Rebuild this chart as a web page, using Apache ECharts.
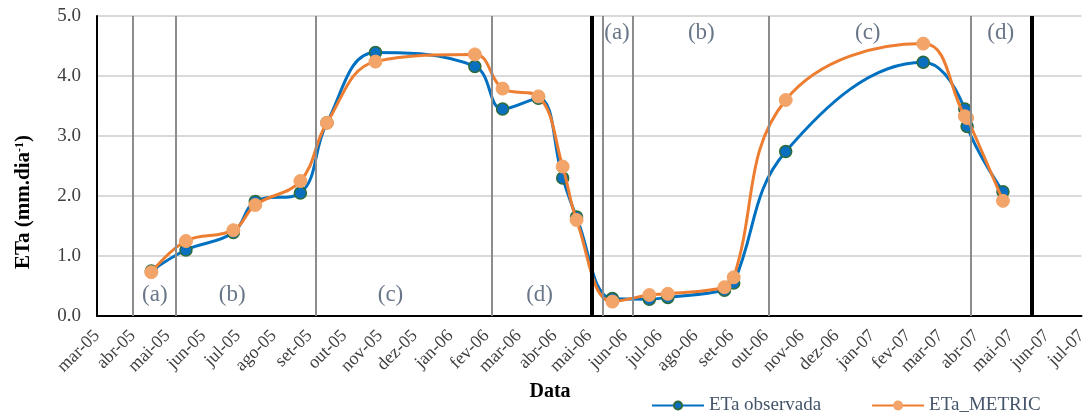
<!DOCTYPE html>
<html>
<head>
<meta charset="utf-8">
<script src="https://cdn.jsdelivr.net/npm/echarts@6/dist/echarts.min.js"></script>
<style>
html,body{margin:0;padding:0;background:#fff;}
#chart{width:1090px;height:414px;}
</style>
</head>
<body>
<div id="chart"></div>
<script>
// ---- data ----
const obsDates = ['2005-04-17','2005-05-17','2005-06-27','2005-07-16','2005-08-24','2005-09-16','2005-10-28','2006-01-22','2006-02-15','2006-03-18','2006-04-08','2006-04-20','2006-05-21','2006-06-22','2006-07-08','2006-08-26','2006-09-03','2006-10-18','2007-02-14','2007-03-22','2007-03-24','2007-04-24'];
const etaObservada = [0.75,1.10,1.39,1.91,2.05,3.22,4.39,4.16,3.45,3.63,2.30,1.65,0.29,0.28,0.31,0.43,0.55,2.74,4.23,3.45,3.16,2.07];
const etaMetric   = [0.73,1.25,1.43,1.85,2.25,3.22,4.24,4.36,3.79,3.66,2.49,1.60,0.24,0.35,0.37,0.48,0.645,3.60,4.54,3.33,3.30,1.92];
const monthAbbr = ['jan','fev','mar','abr','mai','jun','jul','ago','set','out','nov','dez'];
const xMin = '2005-03-01';
const xMax = '2007-07-01';
const phaseDividers = ['2005-04-01','2005-05-08','2005-09-06','2006-02-06','2006-05-13','2006-06-08','2006-10-03','2007-03-27'];
const seasonDividers = ['2006-05-03','2007-05-19'];
const phaseLabels = ['(a)','(b)','(c)','(d)','(a)','(b)','(c)','(d)'];
const phaseLabelDates = ['2005-04-20','2005-06-26','2005-11-10','2006-03-19','2006-05-25','2006-08-06','2006-12-28','2007-04-22'];
const phaseLabelY = [0.35,0.35,0.35,0.35,4.72,4.72,4.72,4.72];

const serif = '"Liberation Serif","DejaVu Serif",serif';
const chart = echarts.init(document.getElementById('chart'));

const markData = phaseDividers.map(d => ({xAxis: d, lineStyle: {color: '#8c8c8c', width: 2, type: 'solid'}}))
  .concat(seasonDividers.map(d => ({xAxis: d, lineStyle: {color: '#000', width: 4, type: 'solid'}})));

chart.setOption({
  animation: false,
  backgroundColor: '#fff',
  grid: {left: 97, right: 7, top: 16, bottom: 98, containLabel: false},
  xAxis: {
    type: 'time',
    min: xMin, max: xMax,
    splitNumber: 28,
    maxInterval: 31 * 864e5,
    axisLine: {show: true, lineStyle: {color: '#000', width: 2}},
    axisTick: {show: false},
    splitLine: {show: false},
    axisLabel: {
      rotate: 45,
      margin: 17,
      showMinLabel: true, showMaxLabel: true,
      hideOverlap: false,
      fontFamily: serif, fontSize: 18, color: '#404040',
      formatter: function (v) {
        const d = new Date(v);
        return monthAbbr[d.getMonth()] + '-' + String(d.getFullYear() % 100).padStart(2, '0');
      }
    }
  },
  yAxis: {
    type: 'value', min: 0, max: 5, interval: 1,
    axisLine: {show: true, lineStyle: {color: '#000', width: 2}},
    axisTick: {show: false},
    axisLabel: {fontFamily: serif, fontSize: 19, color: '#404040', margin: 16, formatter: v => v.toFixed(1)},
    splitLine: {show: true, lineStyle: {color: '#d9d9d9', width: 2}}
  },
  legend: {
    data: ['ETa observada', 'ETa_METRIC'],
    left: 646, top: 391,
    itemWidth: 52, itemHeight: 10, itemGap: 50,
    textStyle: {fontFamily: serif, fontSize: 19, color: '#44546a'}
  },
  graphic: [
    {type: 'text', x: 24, y: 202, rotation: Math.PI / 2,
     style: {text: 'ETa (mm.dia{sup|-1})', fontFamily: serif, fontWeight: 'bold', fontSize: 21, fill: '#000',
             align: 'center', verticalAlign: 'middle',
             rich: {sup: {fontSize: 12, fontWeight: 'bold', fontFamily: serif, padding: [0, 0, 9, 0]}}}},
    {type: 'text', x: 550, y: 392,
     style: {text: 'Data', fontFamily: serif, fontWeight: 'bold', fontSize: 20, fill: '#000', align: 'center', verticalAlign: 'middle'}}
  ],
  series: [
    {
      name: 'phases', type: 'scatter', symbolSize: 0, silent: true,
      data: phaseLabelDates.map((d, i) => ({name: phaseLabels[i], value: [d, phaseLabelY[i]]})),
      label: {show: true, position: 'inside', formatter: p => p.name, fontFamily: serif, fontSize: 23, color: '#44546a'},
      markLine: {silent: true, symbol: 'none', label: {show: false}, data: markData}
    },
    {
      name: 'ETa observada', type: 'line', smooth: 0.4,
      data: obsDates.map((d, i) => [d, etaObservada[i]]),
      symbol: 'circle', symbolSize: 12,
      lineStyle: {color: '#0070c0', width: 3},
      itemStyle: {color: '#0b6fbf', borderColor: '#2e6b3a', borderWidth: 1.5},
      z: 3
    },
    {
      name: 'ETa_METRIC', type: 'line', smooth: 0.4,
      data: obsDates.map((d, i) => [d, etaMetric[i]]),
      symbol: 'circle', symbolSize: 13,
      lineStyle: {color: '#ed7d31', width: 3},
      itemStyle: {color: '#f3a469', borderColor: '#f3a469', borderWidth: 1},
      z: 4
    }
  ]
});
</script>
</body>
</html>
